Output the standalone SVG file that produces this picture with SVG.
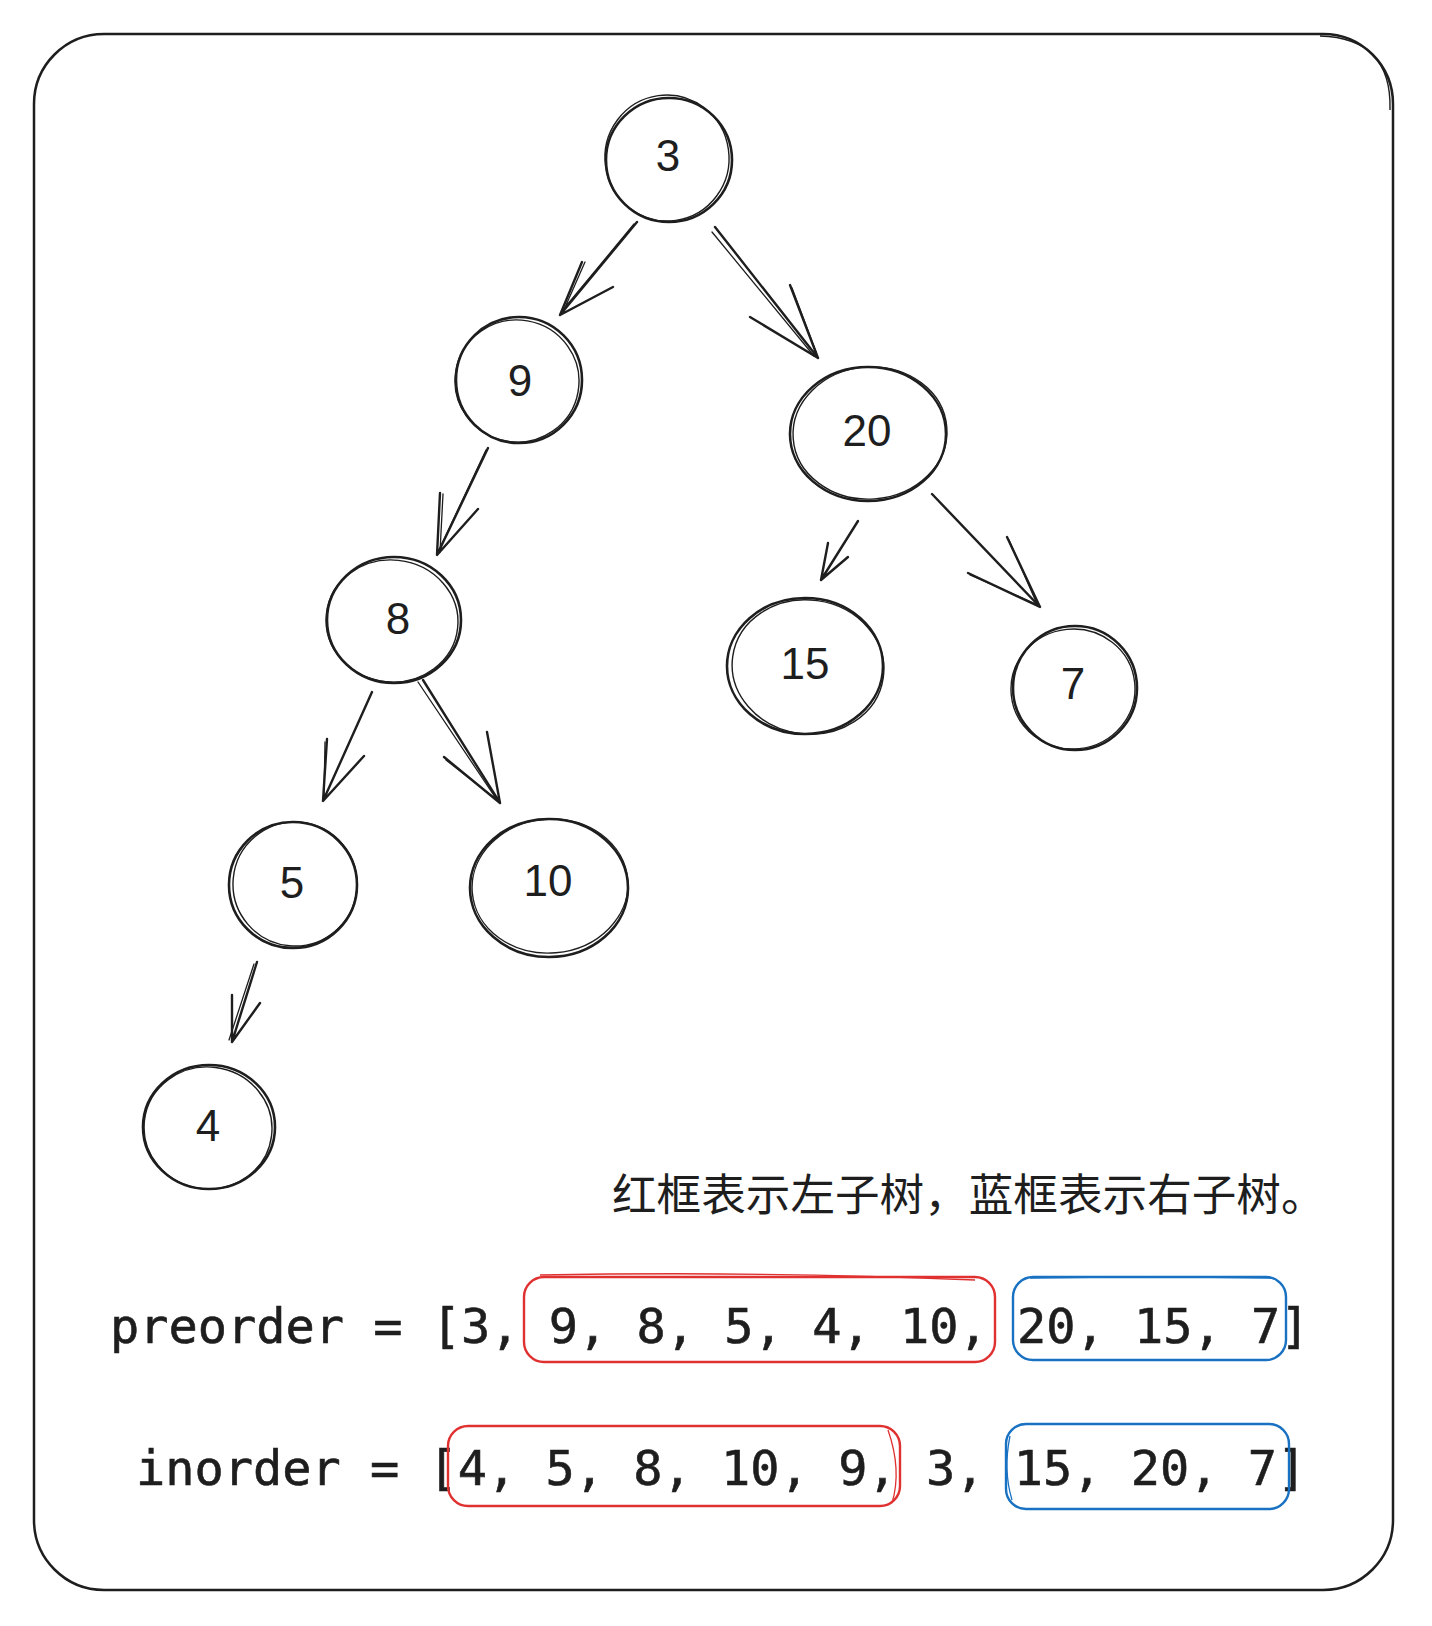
<svg xmlns="http://www.w3.org/2000/svg" width="1432" height="1626" viewBox="0 0 1432 1626">
<style>
.frame{fill:none;stroke:#1e1e1e;stroke-width:2.5}
.node{fill:none;stroke:#1e1e1e;stroke-width:2.6}
.node2{fill:none;stroke:#1e1e1e;stroke-width:1.4}
.lbl{font-family:"Liberation Sans",Arial,sans-serif;font-size:44px;fill:#1e1e1e;text-anchor:middle}
.edge{fill:none;stroke:#1e1e1e;stroke-width:2.4;stroke-linecap:round;stroke-linejoin:round}
.edge2{fill:none;stroke:#1e1e1e;stroke-width:1.3;stroke-linecap:round}
.code{font-family:"DejaVu Sans Mono","Liberation Mono",monospace;font-size:48.6px;fill:#1e1e1e;stroke:#1e1e1e;stroke-width:0.6;white-space:pre}
.note{font-family:"Noto Sans CJK SC","Noto Sans",sans-serif;font-size:44.6px;fill:#1e1e1e}
.red{fill:none;stroke:#e03131;stroke-width:2.4}
.red2{fill:none;stroke:#e03131;stroke-width:1.3}
.blue{fill:none;stroke:#1971c2;stroke-width:2.4}
.blue2{fill:none;stroke:#1971c2;stroke-width:1.3}
</style>
<rect width="1432" height="1626" fill="#ffffff"/>
<g id="frame">
<rect class="frame" x="34" y="34" width="1359" height="1556" rx="70"/>
<path class="node2" d="M1320 36 Q1392 38 1390 110"/>
</g>
<g id="connectors">
<path class="edge" d="M637 222 L560 315 M582 262 L560 315 L613 287"/>
<path class="edge2" d="M634 224 L562 311 M585 262 L563 312"/>
<path class="edge" d="M715 227 L818 358 M790 285 L818 358 L750 317"/>
<path class="edge2" d="M712 232 L814 356 M792 288 L816 352"/>
<path class="edge" d="M488 448 L437 555 M440 493 L437 555 L478 509"/>
<path class="edge2" d="M486 450 L439 550 M443 494 L440 552"/>
<path class="edge" d="M858 521 L821 580 M828 543 L821 580 L848 557"/>
<path class="edge" d="M932 494 L1040 607 M1007 537 L1040 607 L968 573"/>
<path class="edge2" d="M1009 540 L1037 604 M970 575 L1036 604"/>
<path class="edge" d="M372 692 L323 801 M327 739 L323 801 L364 756"/>
<path class="edge2" d="M325 742 L324 796"/>
<path class="edge" d="M423 680 L500 803 M487 732 L500 803 L444 757"/>
<path class="edge2" d="M418 682 L497 800 M446 760 L497 800"/>
<path class="edge" d="M257 962 L232 1042 M232 995 L232 1042 L260 1003"/>
<path class="edge2" d="M254 964 L229 1040"/>
</g>
<g id="node-3">
<ellipse class="node" cx="669" cy="160" rx="63" ry="62"/>
<ellipse class="node2" cx="667" cy="158" rx="62" ry="63" transform="rotate(-8 667 158)"/>
<text class="lbl" x="668" y="171">3</text>
</g>
<g id="node-9">
<ellipse class="node" cx="519" cy="380" rx="63" ry="63"/>
<ellipse class="node2" cx="517" cy="381" rx="62" ry="61" transform="rotate(10 517 381)"/>
<text class="lbl" x="520" y="396">9</text>
</g>
<g id="node-20">
<ellipse class="node" cx="868" cy="434" rx="78" ry="67"/>
<ellipse class="node2" cx="870" cy="433" rx="77" ry="66" transform="rotate(-4 870 433)"/>
<text class="lbl" x="867" y="446">20</text>
</g>
<g id="node-8">
<ellipse class="node" cx="394" cy="620" rx="67" ry="63"/>
<ellipse class="node2" cx="392" cy="621" rx="66" ry="61" transform="rotate(6 392 621)"/>
<text class="lbl" x="398" y="634">8</text>
</g>
<g id="node-15">
<ellipse class="node" cx="805" cy="666" rx="78" ry="68"/>
<ellipse class="node2" cx="808" cy="667" rx="76" ry="67" transform="rotate(8 808 667)"/>
<text class="lbl" x="805" y="679">15</text>
</g>
<g id="node-7">
<ellipse class="node" cx="1075" cy="688" rx="62" ry="62"/>
<ellipse class="node2" cx="1073" cy="689" rx="62" ry="60" transform="rotate(-6 1073 689)"/>
<text class="lbl" x="1073" y="699">7</text>
</g>
<g id="node-5">
<ellipse class="node" cx="293" cy="885" rx="64" ry="63"/>
<ellipse class="node2" cx="295" cy="884" rx="62" ry="62" transform="rotate(5 295 884)"/>
<text class="lbl" x="292" y="898">5</text>
</g>
<g id="node-10">
<ellipse class="node" cx="549" cy="888" rx="79" ry="69"/>
<ellipse class="node2" cx="550" cy="886" rx="78" ry="67" transform="rotate(-5 550 886)"/>
<text class="lbl" x="548" y="896">10</text>
</g>
<g id="node-4">
<ellipse class="node" cx="209" cy="1127" rx="66" ry="62"/>
<ellipse class="node2" cx="208" cy="1128" rx="64" ry="61" transform="rotate(7 208 1128)"/>
<text class="lbl" x="208" y="1141">4</text>
</g>
<g id="note">
<text class="note" x="612" y="1211">红框表示左子树，蓝框表示右子树。</text>
</g>
<g id="preorder">
<text class="code" x="110" y="1343">preorder = [3, 9, 8, 5, 4, 10, 20, 15, 7]</text>
<rect class="red" x="524" y="1277" width="471" height="85" rx="20"/>
<path class="red2" d="M540 1275 Q760 1271 975 1280"/>
<rect class="blue" x="1013" y="1277" width="273" height="83" rx="20"/>
<path class="blue2" d="M1030 1278 Q1150 1276 1272 1278"/>
</g>
<g id="inorder">
<text class="code" x="136" y="1485">inorder = [4, 5, 8, 10, 9, 3, 15, 20, 7]</text>
<rect class="red" x="448" y="1426" width="452" height="80" rx="20"/>
<path class="red2" d="M888 1430 Q902 1470 892 1503"/>
<rect class="blue" x="1006" y="1424" width="283" height="85" rx="20"/>
<path class="blue2" d="M1010 1436 Q1003 1470 1012 1500"/>
</g>
</svg>
